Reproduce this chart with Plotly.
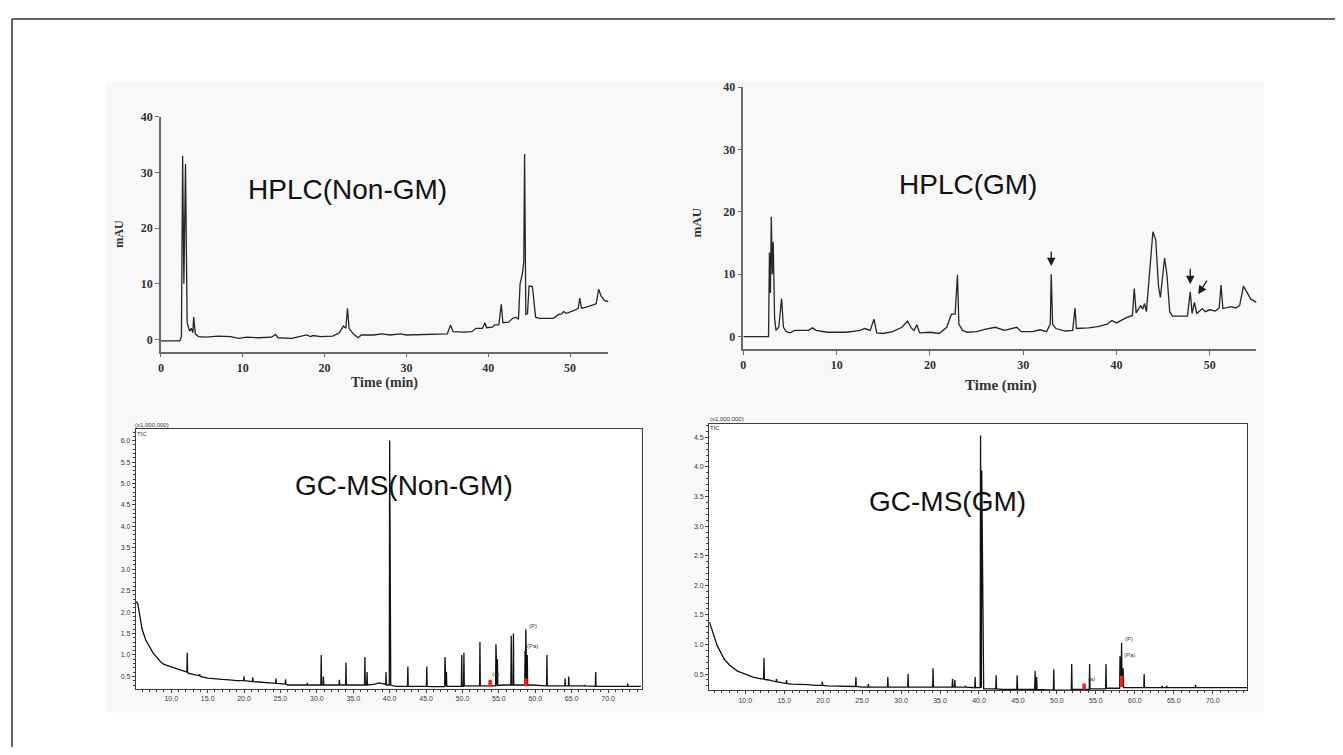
import plotly.graph_objects as go

# page body has an 8px default margin: figure is drawn 8px in from the window edge
PAGE_W, PAGE_H, OFF = 1343, 755, 8
W, H = PAGE_W - 2 * OFF, PAGE_H - 2 * OFF

# ---------------- HPLC (Non-GM) ----------------
hplc_ngm_t = [0.0, 2.3, 2.5, 2.65, 2.8, 2.9, 3.0, 3.2, 3.5, 3.7, 3.9, 4.0, 4.2, 4.6, 5.5, 7.0, 8.5, 9.5,
              10.5, 12.0, 13.5, 14.0, 14.3, 16.0, 17.0, 17.8, 18.3, 18.6, 19.5, 21.0, 21.8, 22.3, 22.6,
              22.8, 23.0, 23.5, 24.1, 24.5, 26.0, 27.0, 28.0, 29.3, 30.0, 32.0, 34.0, 35.0, 35.4, 35.7,
              37.0, 38.0, 38.5, 39.3, 39.6, 39.8, 40.5, 40.8, 41.3, 41.6, 41.8, 42.5, 43.0, 43.4, 43.7,
              43.9, 44.2, 44.35, 44.45, 44.6, 44.8, 45.0, 45.4, 45.6, 45.8, 46.2, 48.0, 48.6, 49.0,
              49.2, 49.6, 50.5, 51.0, 51.2, 51.4, 52.0, 52.8, 53.2, 53.5, 53.8, 54.2, 54.7]
hplc_ngm_y = [-0.25, -0.25, 0.5, 33.0, 10.0, 24.0, 31.5, 3.0, 1.5, 2.0, 1.2, 4.0, 1.0, 0.5, 0.4, 0.6, 0.5, 0.2,
              0.4, 0.3, 0.4, 0.9, 0.3, 0.2, 0.5, 0.8, 0.5, 0.7, 0.5, 0.6, 1.2, 2.4, 2.0,
              5.6, 2.0, 1.0, 0.3, 0.8, 0.8, 1.0, 0.8, 1.0, 0.8, 0.9, 1.0, 1.0, 2.6, 1.4,
              1.3, 1.4, 2.0, 2.0, 3.0, 2.1, 2.2, 2.6, 2.6, 6.3, 3.0, 3.1, 3.8, 4.0, 3.6,
              10.0, 12.0, 14.0, 33.3, 4.5, 4.6, 9.6, 9.5, 6.0, 4.0, 3.8, 3.8, 4.5, 4.6,
              5.0, 4.7, 5.2, 5.6, 7.4, 5.6, 5.8, 6.2, 6.4, 9.0, 7.8, 7.0, 6.8]

# ---------------- HPLC (GM) ----------------
hplc_gm_t = [0.0, 2.7, 2.8, 2.9, 3.0, 3.1, 3.2, 3.35, 3.5, 3.8, 4.1, 4.3, 4.6, 5.0, 5.5, 7.0, 7.4, 7.8,
             9.0, 11.0, 12.0, 12.5, 13.0, 13.6, 14.0, 14.3, 15.0, 16.0, 17.0, 17.6, 18.0, 18.3, 18.6,
             18.9, 20.0, 21.0, 21.8, 22.3, 22.7, 22.95, 23.1, 23.5, 24.0, 25.0, 26.0, 27.0, 28.0,
             29.3, 29.8, 31.0, 31.8, 32.5, 32.9, 33.0, 33.15, 33.5, 34.5, 35.3, 35.55, 35.7, 37.0,
             38.0, 39.0, 39.5, 40.0, 40.5, 41.0, 41.7, 41.9, 42.1, 42.6, 42.8, 43.0, 43.2, 43.5,
             43.9, 44.2, 44.5, 44.7, 45.0, 45.15, 45.4, 45.7, 46.0, 47.6, 47.9, 48.1, 48.35, 48.6,
             49.2, 49.5, 50.0, 50.6, 51.0, 51.2, 51.4, 52.3, 52.8, 53.2, 53.6, 53.9, 54.4, 55.0]
hplc_gm_y = [0.0, 0.0, 13.5, 7.0, 19.2, 10.0, 15.2, 3.0, 1.0, 1.5, 6.1, 1.5, 0.8, 0.6, 1.0, 1.0, 1.4, 1.0,
             0.7, 0.7, 0.9, 1.0, 1.3, 1.0, 2.8, 0.6, 0.5, 0.8, 1.5, 2.5, 1.4, 1.0, 1.9,
             0.6, 0.7, 0.5, 1.5, 3.6, 3.6, 9.9, 2.0, 1.0, 0.7, 0.8, 1.2, 1.5, 1.0,
             1.5, 0.8, 0.8, 1.1, 0.8, 2.0, 10.0, 2.0, 1.3, 0.9, 1.0, 4.6, 1.3, 1.4,
             1.6, 2.0, 2.6, 2.2, 2.6, 3.0, 3.4, 7.7, 3.8, 5.0, 4.4, 5.3, 4.0, 9.0,
             16.8, 15.5, 8.0, 6.3, 11.0, 12.6, 10.0, 4.0, 3.3, 3.3, 7.2, 3.7, 5.5, 3.7,
             4.5, 4.0, 4.3, 4.1, 4.6, 8.25, 4.5, 4.8, 4.6, 5.0, 8.1, 7.3, 6.0, 5.5]

# arrows marking GM-specific peaks (tip time, tip value, tail time, tail value)
arrow_tip_t = [33.0, 47.9, 48.75]
arrow_tip_y = [11.3, 8.4, 6.8]
arrow_tail_t = [33.0, 47.9, 49.8]
arrow_tail_y = [13.9, 11.1, 9.2]

# ---------------- GC-MS (Non-GM), TIC x1,000,000 ----------------
gc_ngm_t = [5.2, 5.4, 5.7, 6.0, 6.5, 7.0, 7.5, 8.0, 8.5, 9.0, 10.0, 11.0, 12.0, 12.15, 12.2, 12.25, 13.0,
            13.85, 13.9, 13.95, 14.0, 15.0, 16.0, 17.0, 18.0, 19.0, 19.95, 20.0, 20.05, 21.15, 21.2, 21.25,
            22.0, 23.0, 24.0, 24.35, 24.4, 24.45, 25.0, 25.65, 25.7, 25.75, 26.0, 27.0, 28.0, 28.65, 28.7,
            28.75, 29.0, 30.0, 30.55, 30.6, 30.65, 30.85, 30.9, 30.95, 32.0, 33.05, 33.1, 33.15, 33.95,
            34.0, 34.05, 35.0, 36.55, 36.6, 36.65, 36.85, 36.9, 36.95, 38.0, 38.5, 39.45, 39.5, 39.55,
            39.8, 39.95, 40.0, 40.05, 40.1, 40.15, 40.5, 41.0, 42.45, 42.5, 42.55, 43.5, 45.05, 45.1,
            45.15, 46.0, 47.55, 47.6, 47.65, 47.75, 47.8, 47.85, 48.5, 49.85, 49.9, 49.95, 50.15, 50.2,
            50.25, 51.0, 52.35, 52.4, 52.45, 53.5, 54.55, 54.6, 54.65, 54.75, 54.8, 54.85, 55.5, 56.65,
            56.7, 56.75, 56.95, 57.0, 57.05, 58.0, 58.55, 58.6, 58.65, 58.7, 58.75, 58.85, 58.9, 58.95,
            59.5, 61.55, 61.6, 61.65, 62.5, 64.05, 64.1, 64.15, 64.55, 64.6, 64.65, 65.5, 66.75, 66.8,
            66.85, 68.25, 68.3, 68.35, 69.0, 72.65, 72.7, 72.75, 74.5]
gc_ngm_y = [2.25, 2.2, 1.9, 1.6, 1.35, 1.2, 1.05, 0.95, 0.85, 0.78, 0.72, 0.66, 0.6, 0.6, 1.05, 0.58, 0.55,
            0.52, 0.55, 0.51, 0.5, 0.46, 0.44, 0.43, 0.42, 0.4, 0.4, 0.5, 0.4, 0.38, 0.48, 0.38,
            0.37, 0.36, 0.34, 0.34, 0.45, 0.34, 0.33, 0.32, 0.43, 0.32, 0.3, 0.3, 0.3, 0.3, 0.35,
            0.3, 0.3, 0.3, 0.3, 1.0, 0.3, 0.3, 0.5, 0.3, 0.3, 0.3, 0.42, 0.3, 0.3,
            0.82, 0.3, 0.3, 0.3, 0.95, 0.3, 0.3, 0.6, 0.3, 0.32, 0.35, 0.32, 0.6, 0.3,
            0.3, 0.3, 6.0, 0.3, 5.95, 0.3, 0.28, 0.27, 0.27, 0.73, 0.27, 0.27, 0.27, 0.73,
            0.27, 0.26, 0.26, 0.95, 0.27, 0.27, 0.6, 0.27, 0.27, 0.27, 1.0, 0.27, 0.27, 1.05,
            0.28, 0.28, 0.28, 1.3, 0.28, 0.28, 0.28, 1.25, 0.28, 0.28, 0.9, 0.29, 0.3, 0.3,
            1.45, 0.3, 0.3, 1.5, 0.3, 0.3, 0.3, 1.1, 0.35, 1.6, 0.4, 0.3, 1.0, 0.3,
            0.3, 0.28, 1.0, 0.28, 0.28, 0.28, 0.45, 0.28, 0.28, 0.5, 0.28, 0.28, 0.28, 0.3,
            0.28, 0.27, 0.6, 0.27, 0.27, 0.27, 0.33, 0.27, 0.27]

# ---------------- GC-MS (GM), TIC x1,000,000 ----------------
gc_gm_t = [5.4, 5.6, 5.8, 6.0, 6.4, 6.8, 7.3, 8.0, 9.0, 10.0, 11.0, 12.0, 12.35, 12.4, 12.45, 13.0,
           13.95, 14.0, 14.05, 14.5, 15.25, 15.3, 15.35, 16.0, 17.0, 18.0, 19.0, 19.85, 19.9, 19.95,
           20.5, 22.0, 23.0, 24.15, 24.2, 24.25, 25.0, 25.75, 25.8, 25.85, 27.0, 28.25, 28.3, 28.35,
           29.5, 30.85, 30.9, 30.95, 32.0, 34.05, 34.1, 34.15, 35.0, 36.55, 36.6, 36.65, 36.85, 36.9,
           36.95, 37.5, 38.25, 38.3, 38.35, 39.45, 39.5, 39.55, 39.9, 40.15, 40.2, 40.25, 40.3, 40.35,
           40.6, 42.15, 42.2, 42.25, 43.0, 44.85, 44.9, 44.95, 46.0, 47.15, 47.2, 47.25, 47.35, 47.4,
           47.45, 48.5, 49.55, 49.6, 49.65, 50.5, 51.85, 51.9, 51.95, 53.0, 54.15, 54.2, 54.25, 55.0,
           56.25, 56.3, 56.35, 57.5, 58.05, 58.1, 58.15, 58.25, 58.3, 58.35, 58.45, 58.5, 58.55,
           59.5, 61.15, 61.2, 61.25, 62.0, 63.45, 63.5, 63.55, 64.05, 64.1, 64.15, 65.0, 66.25, 66.3,
           66.35, 67.75, 67.8, 67.85, 69.0, 72.05, 72.1, 72.15, 74.4]
gc_gm_y = [1.38, 1.3, 1.2, 1.12, 0.98, 0.88, 0.75, 0.65, 0.55, 0.5, 0.45, 0.42, 0.42, 0.77, 0.41, 0.4,
           0.37, 0.42, 0.37, 0.36, 0.34, 0.4, 0.34, 0.33, 0.33, 0.32, 0.31, 0.31, 0.37, 0.31,
           0.3, 0.3, 0.29, 0.29, 0.45, 0.29, 0.28, 0.28, 0.33, 0.28, 0.28, 0.28, 0.45, 0.28,
           0.28, 0.28, 0.5, 0.28, 0.28, 0.28, 0.6, 0.28, 0.28, 0.28, 0.42, 0.28, 0.28, 0.4,
           0.28, 0.28, 0.28, 0.3, 0.28, 0.27, 0.45, 0.27, 0.27, 0.27, 4.53, 0.27, 0.27, 3.94,
           0.25, 0.25, 0.48, 0.25, 0.24, 0.24, 0.48, 0.24, 0.24, 0.24, 0.55, 0.24, 0.24, 0.45,
           0.24, 0.23, 0.23, 0.58, 0.23, 0.23, 0.23, 0.67, 0.24, 0.24, 0.24, 0.67, 0.25, 0.25,
           0.25, 0.67, 0.26, 0.26, 0.26, 0.8, 0.3, 0.35, 1.03, 0.4, 0.3, 0.6, 0.27,
           0.27, 0.27, 0.5, 0.27, 0.27, 0.27, 0.3, 0.27, 0.27, 0.3, 0.27, 0.27, 0.27, 0.28,
           0.27, 0.27, 0.32, 0.27, 0.27, 0.27, 0.28, 0.27, 0.27]

# red integration marks (time, low, high)
red_ngm_t = [53.8, 58.7]
red_ngm_lo = [0.27, 0.27]
red_ngm_hi = [0.42, 0.45]
red_gm_t = [53.5, 58.3]
red_gm_lo = [0.24, 0.28]
red_gm_hi = [0.34, 0.47]

# small peak labels
lab_ngm_t = [59.7, 59.6, 54.6]
lab_ngm_y = [1.68, 1.2, 0.55]
lab_gm_t = [59.3, 59.3, 54.4]
lab_gm_y = [1.1, 0.82, 0.42]
lab_text = ["(P)", "(Pa)", "(a)"]

titles = ["HPLC(Non-GM)", "HPLC(GM)", "GC-MS(Non-GM)", "GC-MS(GM)"]


# ---------------- figure ----------------
def px(x):
    return (x - OFF) / W


def py(y):
    return (H - (y - OFF)) / H


fig = go.Figure()
fig.add_trace(go.Scatter(x=hplc_ngm_t, y=hplc_ngm_y, mode="lines", xaxis="x", yaxis="y",
                         line=dict(color="#262626", width=1.3), hoverinfo="skip"))
fig.add_trace(go.Scatter(x=hplc_gm_t, y=hplc_gm_y, mode="lines", xaxis="x2", yaxis="y2",
                         line=dict(color="#262626", width=1.3), hoverinfo="skip"))
fig.add_trace(go.Scatter(x=gc_ngm_t, y=gc_ngm_y, mode="lines", xaxis="x3", yaxis="y3",
                         line=dict(color="#111111", width=1.3), hoverinfo="skip"))
fig.add_trace(go.Scatter(x=gc_gm_t, y=gc_gm_y, mode="lines", xaxis="x4", yaxis="y4",
                         line=dict(color="#111111", width=1.3), hoverinfo="skip"))

for t, lo, hi in zip(red_ngm_t, red_ngm_lo, red_ngm_hi):
    fig.add_trace(go.Scatter(x=[t, t], y=[lo, hi], mode="lines", xaxis="x3", yaxis="y3",
                             line=dict(color="#ff1a1a", width=3.5), hoverinfo="skip"))
for t, lo, hi in zip(red_gm_t, red_gm_lo, red_gm_hi):
    fig.add_trace(go.Scatter(x=[t, t], y=[lo, hi], mode="lines", xaxis="x4", yaxis="y4",
                             line=dict(color="#ff1a1a", width=3.5), hoverinfo="skip"))

serif_bold = dict(family="Liberation Serif, Times New Roman, serif", size=12, color="#333333", weight="bold")
small = dict(family="Liberation Sans, Arial, sans-serif", size=7, color="#3a3a3a")

hplc_axis = dict(showline=True, linecolor="#6a6a6a", linewidth=1.5, ticks="outside", ticklen=4,
                 tickcolor="#6a6a6a", tickwidth=1, showgrid=False, zeroline=False, tickfont=serif_bold,
                 fixedrange=True)
gc_axis = dict(showline=True, mirror=True, linecolor="#3c3c3c", linewidth=1.2, ticks="outside", ticklen=3,
               tickcolor="#3c3c3c", tickwidth=1, showgrid=False, zeroline=False, tickfont=small,
               tickformat=".1f", fixedrange=True)
gc_minor_x = dict(dtick=1, tick0=0, ticklen=2, ticks="outside", tickcolor="#3c3c3c")
gc_minor_y = dict(dtick=0.1, tick0=0, ticklen=2, ticks="outside", tickcolor="#3c3c3c")

layout = dict(
    width=W, height=H, margin=dict(l=0, r=0, t=0, b=0),
    paper_bgcolor="white", plot_bgcolor="rgba(0,0,0,0)", showlegend=False,
    xaxis=dict(hplc_axis, domain=[px(158.3), px(606.8)], range=[0, 54.7], anchor="y",
               tickvals=[0, 10, 20, 30, 40, 50]),
    yaxis=dict(hplc_axis, domain=[py(347.9), py(110.7)], range=[-2.2, 40], anchor="x",
               tickvals=[0, 10, 20, 30, 40]),
    xaxis2=dict(hplc_axis, domain=[px(742), px(1256.3)], range=[0, 55.0], anchor="y2",
                tickvals=[0, 10, 20, 30, 40, 50]),
    yaxis2=dict(hplc_axis, domain=[py(345.5), py(80.7)], range=[-2.03, 40], anchor="x2",
                tickvals=[0, 10, 20, 30, 40]),
    xaxis3=dict(gc_axis, domain=[px(133.2), px(640)], range=[5.15, 74.6], anchor="y3",
                tickvals=[10, 15, 20, 25, 30, 35, 40, 45, 50, 55, 60, 65, 70], minor=gc_minor_x),
    yaxis3=dict(gc_axis, domain=[py(688.3), py(426)], range=[0.21, 6.27], anchor="x3",
                tickvals=[0.5, 1, 1.5, 2, 2.5, 3, 3.5, 4, 4.5, 5, 5.5, 6], minor=gc_minor_y),
    xaxis4=dict(gc_axis, domain=[px(707.7), px(1246.8)], range=[5.36, 74.4], anchor="y4",
                tickvals=[10, 15, 20, 25, 30, 35, 40, 45, 50, 55, 60, 65, 70], minor=gc_minor_x),
    yaxis4=dict(gc_axis, domain=[py(689.5), py(420.7)], range=[0.23, 4.73], anchor="x4",
                tickvals=[0.5, 1, 1.5, 2, 2.5, 3, 3.5, 4, 4.5], minor=gc_minor_y),
)
fig.update_layout(**layout)

shapes = [
    # faint grey scan background
    dict(type="rect", xref="paper", yref="paper", x0=px(103), x1=px(1264), y0=py(712), y1=py(75),
         fillcolor="#f8f8f8", line=dict(width=0), layer="below"),
    dict(type="rect", xref="x3 domain", yref="y3 domain", x0=0, x1=1, y0=0, y1=1,
         fillcolor="white", line=dict(width=0), layer="below"),
    dict(type="rect", xref="x4 domain", yref="y4 domain", x0=0, x1=1, y0=0, y1=1,
         fillcolor="white", line=dict(width=0), layer="below"),
    # outer page frame (top and left edges visible)
    dict(type="line", xref="paper", yref="paper", x0=px(9), x1=1.02, y0=py(12), y1=py(12),
         line=dict(color="#333333", width=1.5)),
    dict(type="line", xref="paper", yref="paper", x0=px(9), x1=px(9), y0=py(12), y1=-0.02,
         line=dict(color="#333333", width=1.5)),
]
fig.update_layout(shapes=shapes)

title_font = dict(family="Liberation Sans, Arial, sans-serif", size=28, color="#111111")
C = dict(xref="paper", yref="paper", showarrow=False, xanchor="center", yanchor="middle")
ann = [
    dict(C, text=titles[0], x=px(345), y=py(184), font=title_font),
    dict(C, text=titles[1], x=px(967), y=py(179), font=title_font),
    dict(C, text=titles[2], x=px(402), y=py(483), font=title_font),
    dict(C, text=titles[3], x=px(947), y=py(499), font=title_font),
    dict(C, text="Time (min)", x=px(382), y=py(380), font=dict(serif_bold, size=14)),
    dict(C, text="Time (min)", x=px(1000), y=py(382), font=dict(serif_bold, size=15)),
    dict(C, text="mAU", x=px(116), y=py(229), textangle=-90, font=dict(serif_bold, size=12)),
    dict(C, text="mAU", x=px(695), y=py(217), textangle=-90, font=dict(serif_bold, size=13)),
    dict(C, text="(x1,000,000)", x=px(149), y=py(422), font=dict(small, size=6)),
    dict(C, text="TIC", x=px(139), y=py(431), font=dict(small, size=6)),
    dict(C, text="(x1,000,000)", x=px(726), y=py(416), font=dict(small, size=6)),
    dict(C, text="TIC", x=px(714), y=py(425), font=dict(small, size=6)),
]
for tt, ty, tx in zip(lab_ngm_t, lab_ngm_y, lab_text):
    ann.append(dict(text=tx, x=tt, y=ty, xref="x3", yref="y3", showarrow=False, font=dict(small, size=6)))
for tt, ty, tx in zip(lab_gm_t, lab_gm_y, lab_text):
    ann.append(dict(text=tx, x=tt, y=ty, xref="x4", yref="y4", showarrow=False, font=dict(small, size=6)))
for xt, yt, xa, ya in zip(arrow_tip_t, arrow_tip_y, arrow_tail_t, arrow_tail_y):
    ann.append(dict(text="", x=xt, y=yt, xref="x2", yref="y2", ax=xa, ay=ya, axref="x2", ayref="y2",
                    showarrow=True, arrowhead=2, arrowsize=1.3, arrowwidth=1.3, arrowcolor="#1a1a1a"))
fig.update_layout(annotations=ann)

fig.write_html("out.html")
